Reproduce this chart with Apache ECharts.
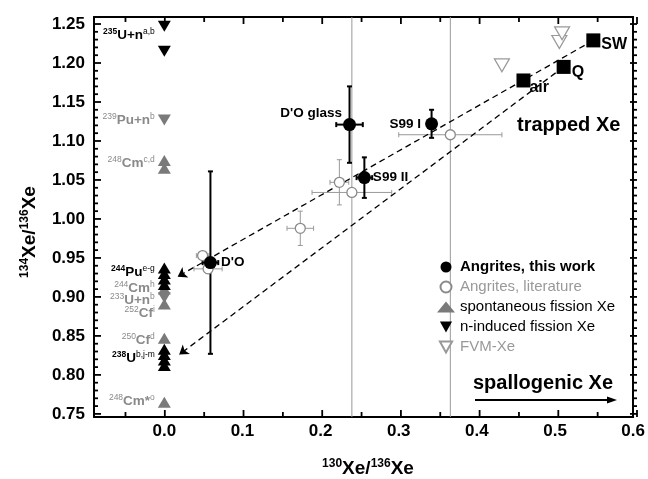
<!DOCTYPE html>
<html><head><meta charset="utf-8">
<script src="https://cdn.jsdelivr.net/npm/echarts@6/dist/echarts.min.js"></script>
<style>html,body{margin:0;padding:0;background:#fff}#c{width:648px;height:479px}</style>
</head><body><div id="c"></div>
<script>
// ---------- axes ----------
const xMin = -0.09, xMax = 0.6, yMin = 0.746, yMax = 1.259;
const xTickLabels = [0.0, 0.1, 0.2, 0.3, 0.4, 0.5, 0.6];
const xMinorTicks = [-0.05, 0.05, 0.15, 0.25, 0.35, 0.45, 0.55];
const yTickLabels = [0.75, 0.80, 0.85, 0.90, 0.95, 1.00, 1.05, 1.10, 1.15, 1.20, 1.25];

// ---------- Angrites, this work ----------
const workNames = ["D'O", "D'O glass", "S99 II", "S99 I"];
const workX = [0.059, 0.237, 0.256, 0.342];
const workY = [0.944, 1.121, 1.053, 1.122];
const workXErr = [0.010, 0.017, 0.010, 0.005];
const workYErr = [0.117, 0.049, 0.026, 0.018];

// ---------- Angrites, literature ----------
const litX = [0.049, 0.056, 0.174, 0.224, 0.240, 0.366];
const litY = [0.953, 0.936, 0.988, 1.047, 1.034, 1.108];
const litXErr = [0.008, 0.018, 0.017, 0.012, 0.051, 0.066];
const litYErr = [0.005, 0.006, 0.022, 0.029, 0.60, 0.60];

// ---------- FVM-Xe ----------
const fvmX = [0.432, 0.5055, 0.509];
const fvmY = [1.197, 1.227, 1.238];

// ---------- trapped Xe ----------
const trappedNames = ['air', 'Q', 'SW'];
const trappedX = [0.4596, 0.511, 0.549];
const trappedY = [1.1776, 1.195, 1.229];

// ---------- fission Xe (all at 130Xe/136Xe = 0) ----------
const fissionX = 0;
const spontDark = [0.937, 0.930, 0.923, 0.916, 0.833, 0.826, 0.819, 0.812]; // 244Pu, 238U
const spontGray = [1.075, 1.065, 0.910, 0.891, 0.847, 0.765];               // 248Cm, 244Cm, 252Cf, 250Cf, 248Cm*
const nIndDark = [1.247, 1.215];                                            // 235U+n
const nIndGray = [1.127, 0.899];                                            // 239Pu+n, 233U+n

// ---------- mixing lines (trapped end -> fission end) ----------
const mixFrom = [[0.549, 1.229], [0.511, 1.195]];
const mixTo = [[0.017, 0.926], [0.019, 0.826]];

// ---------- fission labels ----------
const fisIso = ['235', '239', '248', '244', '244', '233', '252', '250', '238', '248'];
const fisEl = ['U+n', 'Pu+n', 'Cm', 'Pu', 'Cm', 'U+n', 'Cf', 'Cf', 'U', 'Cm*'];
const fisRef = ['a,b', 'b', 'c,d', 'e-g', 'h', 'b', 'i', 'd', 'b,j-m', 'o'];
const fisY = [1.236, 1.127, 1.072, 0.932, 0.911, 0.896, 0.879, 0.845, 0.821, 0.766];
const fisDark = [true, false, false, true, false, false, false, false, true, false];

// ================= build =================
const FONT = '"Liberation Sans", Arial, Helvetica, sans-serif';
const GRAY = '#8a8a8a';
const yMinor = [];
for (let i = 0; i <= 50; i++) { const v = +(0.75 + i * 0.01).toFixed(2); if (i % 5 !== 0) yMinor.push(v); }

const W = 648, H = 479;
const gridBox = { left: 94, right: 11, top: 17, bottom: 62 };
const PL = gridBox.left, PR = W - gridBox.right, PT = gridBox.top, PB = H - gridBox.bottom;
const sx = v => PL + (v - xMin) / (xMax - xMin) * (PR - PL);
const sy = v => PB - (v - yMin) / (yMax - yMin) * (PB - PT);

function xAx(pos, labels) {
  return {
    type: 'value', position: pos, min: xMin, max: xMax,
    axisLine: { show: true, onZero: false, lineStyle: { color: '#000', width: 2 } }, splitLine: { show: false },
    axisTick: { show: false },
    axisLabel: labels ? { show: true, customValues: xTickLabels, formatter: v => v.toFixed(1), color: '#000', fontSize: 17, fontWeight: 'bold', fontFamily: FONT, margin: 6 } : { show: false }
  };
}
function yAx(pos, labels) {
  return {
    type: 'value', position: pos, min: yMin, max: yMax,
    axisLine: { show: true, onZero: false, lineStyle: { color: '#000', width: 2 } }, splitLine: { show: false },
    axisTick: { show: false },
    axisLabel: labels ? { show: true, customValues: yTickLabels, formatter: v => v.toFixed(2), color: '#000', fontSize: 17, fontWeight: 'bold', fontFamily: FONT, margin: 9 } : { show: false }
  };
}

function errRender(color, lw, cap) {
  return function (params, api) {
    const cs = params.coordSys;
    const x = api.value(0), y = api.value(1), xe = api.value(2), ye = api.value(3);
    const c = api.coord([x, y]);
    const l = api.coord([x - xe, y])[0], r = api.coord([x + xe, y])[0];
    const t = api.coord([x, y + ye])[1], b = api.coord([x, y - ye])[1];
    const cy = v => Math.max(cs.y, Math.min(cs.y + cs.height, v));
    const cx = v => Math.max(cs.x, Math.min(cs.x + cs.width, v));
    const st = { stroke: color, lineWidth: lw };
    const ch = [
      { type: 'line', shape: { x1: c[0], y1: cy(t), x2: c[0], y2: cy(b) }, style: st },
      { type: 'line', shape: { x1: cx(l), y1: c[1], x2: cx(r), y2: c[1] }, style: st }
    ];
    if (t >= cs.y) ch.push({ type: 'line', shape: { x1: c[0] - cap, y1: t, x2: c[0] + cap, y2: t }, style: st });
    if (b <= cs.y + cs.height) ch.push({ type: 'line', shape: { x1: c[0] - cap, y1: b, x2: c[0] + cap, y2: b }, style: st });
    if (l >= cs.x) ch.push({ type: 'line', shape: { x1: l, y1: c[1] - cap, x2: l, y2: c[1] + cap }, style: st });
    if (r <= cs.x + cs.width) ch.push({ type: 'line', shape: { x1: r, y1: c[1] - cap, x2: r, y2: c[1] + cap }, style: st });
    return { type: 'group', children: ch };
  };
}

const LBL = { color: '#000', fontWeight: 'bold', fontFamily: FONT, textBorderWidth: 0, opacity: 1 };
const workLabelCfg = [
  { position: 'right', distance: 4 },
  { position: 'left', distance: 1, offset: [0, -11] },
  { position: 'right', distance: 2 },
  { position: 'left', distance: 4 }
];
const trapLabelCfg = [
  { position: 'right', distance: -1, offset: [0, 7] },
  { position: 'right', distance: 1, offset: [0, 6] },
  { position: 'right', distance: 1, offset: [0, 4] }
];
const DOWN = 'path://M0,0 L10,0 L5,9 Z';

const labelRich = {
  isoD: { fontSize: 8.5, fontWeight: 'bold', color: '#000', verticalAlign: 'top', lineHeight: 9, fontFamily: FONT },
  elD: { fontSize: 13.5, fontWeight: 'bold', color: '#000', lineHeight: 16, fontFamily: FONT },
  refD: { fontSize: 8.5, color: '#000', verticalAlign: 'top', lineHeight: 9, fontFamily: FONT },
  isoG: { fontSize: 8.5, color: GRAY, verticalAlign: 'top', lineHeight: 9, fontFamily: FONT },
  elG: { fontSize: 13.5, fontWeight: 'bold', color: GRAY, lineHeight: 16, fontFamily: FONT },
  refG: { fontSize: 8.5, color: GRAY, verticalAlign: 'top', lineHeight: 9, fontFamily: FONT }
};

// frame ticks (inward, all four sides)
const tickGraphic = [];
const tickStyle = { stroke: '#000', lineWidth: 1.8 };
function addXTicks(vals, len) {
  vals.forEach(v => {
    const px = sx(v);
    tickGraphic.push({ type: 'line', z: 100, silent: true, shape: { x1: px, y1: PB, x2: px, y2: PB - len }, style: tickStyle });
    tickGraphic.push({ type: 'line', z: 100, silent: true, shape: { x1: px, y1: PT, x2: px, y2: PT + len }, style: tickStyle });
  });
}
function addYTicks(vals, len) {
  vals.forEach(v => {
    const py = sy(v);
    tickGraphic.push({ type: 'line', z: 100, silent: true, shape: { x1: PL, y1: py, x2: PL + len, y2: py }, style: tickStyle });
    tickGraphic.push({ type: 'line', z: 100, silent: true, shape: { x1: PR, y1: py, x2: PR - len, y2: py }, style: tickStyle });
  });
}
addXTicks(xTickLabels, 7); addXTicks(xMinorTicks, 5);
addYTicks(yTickLabels, 7); addYTicks(yMinor, 4);

const baseGraphic = [
  { type: 'text', x: 368, y: 469, style: { text: '{s|130}{b|Xe/}{s|136}{b|Xe}', align: 'center', verticalAlign: 'middle',
    rich: { b: { fontSize: 19, fontWeight: 'bold', lineHeight: 22, fontFamily: FONT, color: '#000' }, s: { fontSize: 12, fontWeight: 'bold', verticalAlign: 'top', lineHeight: 12, fontFamily: FONT, color: '#000' } } } },
  { type: 'text', x: 30, y: 232, rotation: Math.PI / 2, style: { text: '{s|134}{b|Xe/}{s|136}{b|Xe}', align: 'center', verticalAlign: 'middle',
    rich: { b: { fontSize: 19, fontWeight: 'bold', lineHeight: 22, fontFamily: FONT, color: '#000' }, s: { fontSize: 12, fontWeight: 'bold', verticalAlign: 'top', lineHeight: 12, fontFamily: FONT, color: '#000' } } } },
  { type: 'text', x: 517, y: 125, style: { text: 'trapped Xe', font: 'bold 20px ' + FONT, fill: '#000', verticalAlign: 'middle' } },
  { type: 'text', x: 473, y: 383, style: { text: 'spallogenic Xe', font: 'bold 20px ' + FONT, fill: '#000', verticalAlign: 'middle' } },
  { type: 'line', shape: { x1: 475, y1: 400, x2: 610, y2: 400 }, style: { stroke: '#000', lineWidth: 2 } },
  { type: 'polygon', shape: { points: [[617, 400], [607, 396.5], [607, 403.5]] }, style: { fill: '#000' } }
].concat(tickGraphic);

const option = {
  animation: false,
  backgroundColor: '#fff',
  grid: Object.assign({ show: false }, gridBox),
  xAxis: [xAx('bottom', true), xAx('top', false)],
  yAxis: [yAx('left', true), yAx('right', false)],
  legend: {
    orient: 'vertical', left: 432, top: 252, itemGap: 0, itemWidth: 18, itemHeight: 11,
    symbolKeepAspect: true,
    textStyle: { fontSize: 15, lineHeight: 20, fontFamily: FONT, color: '#000' },
    data: [
      { name: 'Angrites, this work', textStyle: { fontWeight: 'bold', color: '#000' } },
      { name: 'Angrites, literature', textStyle: { color: '#999' } },
      { name: 'spontaneous fission Xe', textStyle: { color: '#000' } },
      { name: 'n-induced fission Xe', textStyle: { color: '#000' } },
      { name: 'FVM-Xe', textStyle: { color: '#999' } }
    ]
  },
  graphic: { elements: baseGraphic },
  series: [
    {
      name: 'litErr', type: 'custom', z: 2, silent: true,
      renderItem: errRender('#999', 1, 2.5),
      data: litX.map((x, i) => [x, litY[i], litXErr[i], litYErr[i]])
    },
    {
      name: 'workErr', type: 'custom', z: 3, silent: true,
      renderItem: errRender('#000', 2, 2.5),
      data: workX.map((x, i) => [x, workY[i], workXErr[i], workYErr[i]])
    },
    {
      name: 'mixing', type: 'lines', coordinateSystem: 'cartesian2d', z: 3, silent: true,
      symbol: ['none', 'arrow'], symbolSize: 9,
      lineStyle: { color: '#000', width: 1.3, type: [6, 4], opacity: 1 },
      data: mixFrom.map((p, i) => ({ coords: [p, mixTo[i]] }))
    },
    {
      name: 'Angrites, literature', type: 'scatter', z: 5, symbol: 'circle', symbolSize: 10,
      itemStyle: { color: '#fff', borderColor: GRAY, borderWidth: 1.3, opacity: 1 },
      data: litX.map((x, i) => [x, litY[i]])
    },
    {
      name: 'Angrites, this work', type: 'scatter', z: 6, symbol: 'circle', symbolSize: 13,
      itemStyle: { color: '#000', opacity: 1 },
      label: Object.assign({ show: true, formatter: p => p.name, fontSize: 13.5 }, LBL),
      data: workX.map((x, i) => ({ name: workNames[i], value: [x, workY[i]], label: Object.assign({}, LBL, { fontSize: 13.5 }, workLabelCfg[i]) }))
    },
    {
      name: 'spontaneous fission Xe', type: 'scatter', z: 5, symbol: 'triangle', symbolSize: [13, 11],
      itemStyle: { color: '#7a7a7a', opacity: 1 },
      data: spontGray.map(v => [fissionX, v]).concat(spontDark.map(v => ({ value: [fissionX, v], itemStyle: { color: '#000' } })))
    },
    {
      name: 'n-induced fission Xe', type: 'scatter', z: 5, symbol: DOWN, symbolSize: [13, 11],
      itemStyle: { color: '#000', opacity: 1 },
      data: nIndDark.map(v => [fissionX, v]).concat(nIndGray.map(v => ({ value: [fissionX, v], itemStyle: { color: '#7a7a7a' } })))
    },
    {
      name: 'FVM-Xe', type: 'scatter', z: 4, symbol: DOWN, symbolSize: [15, 13],
      itemStyle: { color: '#fff', borderColor: '#999', borderWidth: 1.2, opacity: 1 },
      data: fvmX.map((x, i) => [x, fvmY[i]])
    },
    {
      name: 'trapped', type: 'scatter', z: 6, symbol: 'rect', symbolSize: 14,
      itemStyle: { color: '#000', opacity: 1 },
      label: Object.assign({ show: true, formatter: p => p.name, fontSize: 16 }, LBL),
      data: trappedX.map((x, i) => ({ name: trappedNames[i], value: [x, trappedY[i]], label: Object.assign({}, LBL, { fontSize: 16 }, trapLabelCfg[i]) }))
    },
    {
      name: 'fissionLabels', type: 'scatter', z: 7, silent: true, symbolSize: 1,
      itemStyle: { color: 'rgba(0,0,0,0)', opacity: 1 },
      label: {
        show: true, position: 'left', distance: 9,
        formatter: p => {
          const i = p.dataIndex, k = fisDark[i] ? 'D' : 'G';
          return '{iso' + k + '|' + fisIso[i] + '}{el' + k + '|' + fisEl[i] + '}{ref' + k + '|' + fisRef[i] + '}';
        },
        rich: labelRich
      },
      data: fisY.map(v => [fissionX, v])
    }
  ]
};

const chart = echarts.init(document.getElementById('c'), null, { renderer: 'canvas' });
chart.setOption(option);
</script>
</body></html>
